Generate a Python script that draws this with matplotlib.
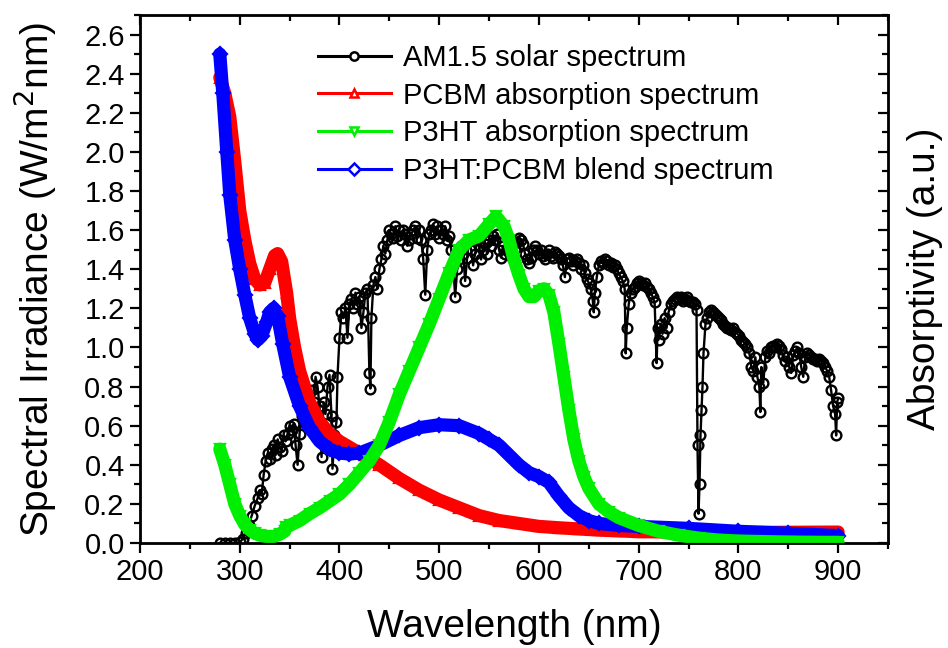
import numpy as np
import matplotlib
matplotlib.use("Agg")
import matplotlib.pyplot as plt
from matplotlib.lines import Line2D
from matplotlib.ticker import MultipleLocator, FormatStrFormatter

plt.rcParams['font.family'] = ['Liberation Sans', 'DejaVu Sans']

# AM1.5 solar spectrum (W/m^2/nm)
am_wl = [280, 285, 290, 295, 300, 303, 306, 309, 312, 315, 318, 320, 322, 324, 326, 328,
         330, 332, 334, 336, 338, 340, 342, 344, 346, 348, 350, 352, 354, 356, 358, 360,
         362, 364, 366, 368, 370, 372, 374, 376, 378, 380, 382, 384, 386, 388, 390, 392,
         393, 395, 397, 398, 400, 402, 404, 406, 408, 410, 412, 414, 416, 418, 420, 422,
         424, 426, 428, 430, 431, 432, 434, 436, 438, 440, 442, 444, 446, 448, 450, 452,
         454, 456, 458, 460, 462, 464, 466, 468, 470, 472, 474, 476, 478, 480, 482, 484,
         486, 488, 490, 492, 494, 496, 498, 500, 502, 504, 506, 508, 510, 512, 514, 516,
         518, 520, 522, 524, 526, 528, 530, 532, 534, 536, 538, 540, 542, 544, 546, 548,
         550, 552, 554, 556, 558, 560, 562, 564, 566, 568, 570, 572, 574, 576, 578, 580,
         582, 584, 586, 588, 590, 592, 594, 596, 598, 600, 602, 604, 606, 608, 610, 612,
         614, 616, 618, 620, 622, 624, 626, 628, 630, 632, 634, 636, 638, 640, 642, 644,
         646, 648, 650, 652, 654, 655, 656, 658, 660, 662, 664, 666, 668, 670, 672, 674,
         676, 678, 680, 682, 684, 686, 687, 688, 690, 692, 694, 696, 698, 700, 702, 704,
         706, 708, 710, 712, 714, 716, 718, 719, 720, 722, 724, 726, 728, 730, 732, 734,
         736, 738, 740, 742, 744, 746, 748, 750, 752, 754, 756, 758, 759, 760, 761, 762,
         763, 764, 765, 767, 769, 771, 773, 775, 777, 779, 781, 783, 785, 787, 789, 791,
         793, 795, 797, 799, 801, 803, 805, 807, 809, 811, 813, 815, 817, 819, 821, 822,
         823, 825, 827, 829, 831, 833, 835, 837, 839, 841, 843, 845, 847, 849, 851, 853,
         855, 857, 859, 861, 863, 865, 867, 869, 871, 873, 875, 877, 879, 881, 883, 885,
         887, 889, 891, 893, 895, 897, 898, 899, 900]
am_val = [0.0, 0.0, 0.0, 0.0, 0.005, 0.02, 0.05, 0.09, 0.14, 0.19, 0.23, 0.27, 0.25, 0.35, 0.42, 0.46,
          0.43, 0.48, 0.50, 0.45, 0.53, 0.49, 0.47, 0.55, 0.52, 0.56, 0.60, 0.58, 0.61, 0.50, 0.40, 0.56,
          0.65, 0.62, 0.70, 0.74, 0.60, 0.78, 0.72, 0.85, 0.80, 0.70, 0.44, 0.72, 0.66, 0.80, 0.86, 0.65,
          0.38, 0.55, 0.62, 0.85, 1.05, 1.18, 1.15, 1.20, 1.05, 1.22, 1.25, 1.20, 1.28, 1.22, 1.26, 1.10,
          1.18, 1.28, 1.30, 0.87, 0.79, 1.15, 1.32, 1.36, 1.30, 1.40, 1.45, 1.52, 1.48, 1.55, 1.60, 1.58,
          1.56, 1.62, 1.57, 1.60, 1.55, 1.60, 1.58, 1.52, 1.55, 1.58, 1.60, 1.62, 1.56, 1.60, 1.55, 1.45,
          1.27, 1.50, 1.58, 1.60, 1.63, 1.58, 1.62, 1.56, 1.60, 1.58, 1.62, 1.55, 1.57, 1.50, 1.42, 1.26,
          1.40, 1.45, 1.52, 1.48, 1.34, 1.46, 1.55, 1.50, 1.42, 1.48, 1.55, 1.52, 1.45, 1.50, 1.53, 1.48,
          1.55, 1.52, 1.57, 1.55, 1.58, 1.50, 1.46, 1.52, 1.48, 1.50, 1.52, 1.47, 1.45, 1.50, 1.54, 1.56,
          1.55, 1.53, 1.48, 1.45, 1.43, 1.46, 1.50, 1.52, 1.50, 1.48, 1.50, 1.47, 1.45, 1.48, 1.50, 1.47,
          1.46, 1.49, 1.48, 1.47, 1.45, 1.42, 1.36, 1.45, 1.46, 1.44, 1.42, 1.44, 1.45, 1.43, 1.40, 1.42,
          1.38, 1.35, 1.33, 1.30, 1.24, 1.18, 1.28, 1.36, 1.42, 1.44, 1.43, 1.45, 1.44, 1.42, 1.43, 1.41,
          1.42, 1.40, 1.38, 1.36, 1.34, 1.30, 0.97, 1.10, 1.22, 1.28, 1.30, 1.31, 1.33, 1.34, 1.33, 1.32,
          1.33, 1.31, 1.30, 1.28, 1.26, 1.23, 0.92, 1.10, 1.04, 1.12, 1.07, 1.15, 1.10, 1.18, 1.22, 1.24,
          1.25, 1.26, 1.25, 1.26, 1.24, 1.25, 1.26, 1.24, 1.23, 1.23, 1.22, 1.19, 0.50, 0.15, 0.30, 0.55,
          0.68, 0.80, 0.97, 1.12, 1.15, 1.18, 1.19, 1.18, 1.17, 1.16, 1.15, 1.14, 1.12, 1.11, 1.10, 1.10,
          1.09, 1.10, 1.08, 1.07, 1.06, 1.04, 1.03, 1.02, 1.00, 0.97, 0.90, 0.88, 0.95, 0.85, 0.80, 0.67,
          0.90, 0.82, 0.95, 0.98, 0.97, 1.00, 1.01, 1.00, 1.02, 1.01, 0.99, 0.96, 0.93, 0.95, 0.90, 0.87,
          0.96, 0.98, 1.00, 0.97, 0.90, 0.85, 0.95, 0.97, 0.96, 0.95, 0.94, 0.94, 0.93, 0.94, 0.93, 0.92,
          0.90, 0.88, 0.85, 0.78, 0.70, 0.66, 0.55, 0.72, 0.74]

# PCBM absorption
pcbm_wl = [280, 285, 290, 295, 300, 305, 310, 315, 320, 325, 330, 335, 338, 342, 347, 350,
           355, 360, 365, 370, 380, 390, 400, 420, 440, 460, 480, 500, 520, 540, 560, 580,
           600, 620, 640, 660, 680, 700, 750, 800, 850, 900]
pcbm_val = [2.38, 2.30, 2.18, 1.95, 1.70, 1.55, 1.43, 1.35, 1.32, 1.33, 1.40, 1.47, 1.48, 1.44, 1.28, 1.15,
            1.00, 0.88, 0.80, 0.72, 0.62, 0.56, 0.52, 0.46, 0.40, 0.33, 0.27, 0.22, 0.18, 0.14, 0.115, 0.10,
            0.085, 0.078, 0.072, 0.066, 0.062, 0.058, 0.055, 0.054, 0.055, 0.056]

# P3HT absorption
p3ht_wl = [280, 285, 290, 295, 300, 305, 310, 315, 320, 325, 330, 335, 340, 345, 346, 350,
           360, 370, 380, 390, 400, 410, 420, 430, 440, 450, 460, 470, 480, 490, 500, 510,
           520, 530, 540, 550, 557, 565, 570, 575, 580, 585, 590, 595, 600, 605, 610, 615,
           620, 625, 630, 635, 640, 645, 650, 660, 670, 680, 700, 720, 740, 760, 780, 800,
           850, 900]
p3ht_val = [0.48, 0.40, 0.30, 0.20, 0.14, 0.095, 0.068, 0.05, 0.04, 0.035, 0.032, 0.035, 0.045, 0.06, 0.08, 0.09,
            0.115, 0.15, 0.18, 0.215, 0.25, 0.30, 0.36, 0.42, 0.50, 0.62, 0.76, 0.88, 1.00, 1.12, 1.25, 1.38,
            1.50, 1.55, 1.57, 1.63, 1.67, 1.62, 1.55, 1.45, 1.37, 1.30, 1.26, 1.26, 1.29, 1.30, 1.27, 1.18,
            1.02, 0.85, 0.68, 0.53, 0.42, 0.34, 0.28, 0.20, 0.16, 0.13, 0.09, 0.06, 0.04, 0.025, 0.015, 0.01,
            0.005, 0.003]

# P3HT:PCBM blend
blend_wl = [280, 283, 287, 290, 295, 300, 305, 310, 315, 318, 322, 327, 330, 334, 338, 343,
            350, 360, 370, 380, 390, 400, 410, 420, 440, 460, 480, 500, 520, 540, 550, 560,
            570, 580, 590, 600, 610, 620, 630, 640, 650, 660, 680, 700, 750, 800, 850, 900]
blend_val = [2.50, 2.30, 2.00, 1.78, 1.55, 1.40, 1.27, 1.15, 1.07, 1.04, 1.06, 1.13, 1.18, 1.20, 1.16, 1.02,
             0.85, 0.70, 0.59, 0.52, 0.48, 0.46, 0.455, 0.46, 0.50, 0.55, 0.59, 0.605, 0.60, 0.56, 0.53, 0.50,
             0.45, 0.40, 0.36, 0.34, 0.31, 0.24, 0.18, 0.14, 0.115, 0.10, 0.09, 0.085, 0.075, 0.06, 0.05, 0.038]

labels = ['AM1.5 solar spectrum', 'PCBM absorption spectrum',
          'P3HT absorption spectrum', 'P3HT:PCBM blend spectrum']
colors = ['black', '#ff0000', '#00ee00', '#0000ff']
markers = ['o', '^', 'v', 'D']

fig = plt.figure(figsize=(9.48, 6.48), dpi=100)
ax = fig.add_axes([0.1477, 0.162, 0.789, 0.8148])

ax.plot(am_wl, am_val, color='black', lw=1.7, marker='o', ms=7, mfc='none', mew=1.7, zorder=2)
# coloured curves: thick band of overlapping hollow markers
for wl, val, c, m in [(pcbm_wl, pcbm_val, colors[1], '^'),
                      (blend_wl, blend_val, colors[3], 'D'),
                      (p3ht_wl, p3ht_val, colors[2], 'v')]:
    ax.plot(wl, val, color=c, lw=9.5, solid_capstyle='round', zorder=3)
    ax.plot(wl, val, color=c, lw=0, marker=m, ms=7, mfc='none', mew=1.6, zorder=3)

ax.set_xticks(np.arange(200, 901, 100))
ax.xaxis.set_minor_locator(MultipleLocator(50))
ax.yaxis.set_major_locator(MultipleLocator(0.2))
ax.yaxis.set_minor_locator(MultipleLocator(0.1))
ax.yaxis.set_major_formatter(FormatStrFormatter('%.1f'))
ax.set_xlim(200, 950)
ax.set_ylim(0, 2.7)
ax.tick_params(which='major', direction='out', length=7, width=1.6, labelsize=21, pad=4)
ax.tick_params(which='minor', direction='out', length=4, width=1.6)
for s in ax.spines.values():
    s.set_linewidth(2)

# mirrored inward ticks on top and right
axr = ax.twinx()
axr.set_ylim(ax.get_ylim())
axr.yaxis.set_major_locator(MultipleLocator(0.2))
axr.yaxis.set_minor_locator(MultipleLocator(0.1))
axr.tick_params(which='both', direction='in', labelright=False, width=1.6)
axr.tick_params(which='major', length=7)
axr.tick_params(which='minor', length=4)
axr.set_ylabel('Absorptivity (a.u.)', fontsize=28, labelpad=14)
axt = ax.twiny()
axt.set_xlim(ax.get_xlim())
axt.xaxis.set_major_locator(MultipleLocator(100))
axt.xaxis.set_minor_locator(MultipleLocator(50))
axt.tick_params(which='both', direction='in', labeltop=False, width=1.6)
axt.tick_params(which='major', length=7)
axt.tick_params(which='minor', length=4)

ax.set_xlabel('Wavelength (nm)', fontsize=28, labelpad=16)
ax.set_ylabel('Spectral Irradiance (W/m$^2$nm)', fontsize=28, labelpad=18)

handles = [Line2D([], [], color=c, lw=2.2, marker=m, ms=6, mfc='white', mew=1.8)
           for c, m in zip(colors, markers)]
ax.legend(handles, labels, loc='upper left', bbox_to_anchor=(0.238, 0.945), frameon=False,
          fontsize=21, handlelength=2.5, handletextpad=0.4, labelspacing=0.33,
          borderpad=0, borderaxespad=0)

fig.savefig('out.png', dpi=100)
